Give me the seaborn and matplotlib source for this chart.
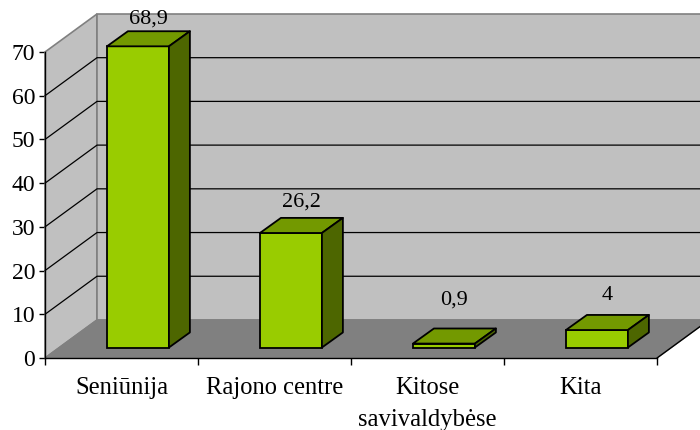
import matplotlib
matplotlib.use("Agg")
import matplotlib.pyplot as plt
import pandas as pd
import seaborn as sns

categories = ['Seniūnija', 'Rajono centre', 'Kitose\nsavivaldybėse', 'Kita']
values = [68.9, 26.2, 0.9, 4]
y_ticks = [0, 10, 20, 30, 40, 50, 60, 70]

sns.set_style("white")
plt.rcParams['font.family'] = ['Liberation Serif', 'DejaVu Serif']

df = pd.DataFrame({'place': categories, 'share': values})

fig = plt.figure(figsize=(7, 4.3), dpi=100)
ax = fig.add_axes([45 / 700, 72 / 430, 612 / 700, 306 / 430])

# depth of the fake 3d box, in data units (x = categories, y = percent)
wall_x, wall_y = 0.34, 8.7
bar_dx, bar_dy = 0.137, 3.45
shift_x, shift_y = 0.1075, 2.4
x0, x1 = -0.5, 3.5
top = y_ticks[-1]

# side wall, back wall, floor
ax.fill([x0, x0 + wall_x, x0 + wall_x, x0], [0, wall_y, top + wall_y, top],
        color='#c0c0c0', ec='#808080', lw=1.2, clip_on=False, zorder=1)
ax.fill([x0 + wall_x, x1 + wall_x, x1 + wall_x, x0 + wall_x],
        [wall_y, wall_y, top + wall_y, top + wall_y],
        color='#c0c0c0', ec='#808080', lw=1.2, clip_on=False, zorder=1)
ax.fill([x0, x1, x1 + wall_x, x0 + wall_x], [0, 0, wall_y, wall_y],
        color='#808080', ec='#808080', lw=1, clip_on=False, zorder=1.5)
ax.plot([x1, x1 + wall_x], [0, wall_y], color='black', lw=1, clip_on=False, zorder=2)

# gridlines run along the side wall then the back wall
for t in y_ticks[1:-1]:
    ax.plot([x0, x0 + wall_x, x1 + wall_x], [t, t + wall_y, t + wall_y],
            color='black', lw=0.9, clip_on=False, zorder=2)

sns.barplot(data=df, x='place', y='share', color='#99cc00', saturation=1,
            width=0.405, edgecolor='black', linewidth=1.3, ax=ax, zorder=3, clip_on=False)

bars = list(ax.containers[0])
for p in bars:
    p.set_x(p.get_x() + shift_x)
    p.set_y(shift_y)

label_pad = [2, 4.5, 13.5, 7]
for i, p in enumerate(bars):
    l = p.get_x()
    r = l + p.get_width()
    b = shift_y
    h = b + p.get_height()
    ax.fill([l, r, r + bar_dx, l + bar_dx], [h, h, h + bar_dy, h + bar_dy],
            fc='#739900', ec='black', lw=1.3, joinstyle='round', clip_on=False, zorder=3)
    ax.fill([r, r + bar_dx, r + bar_dx, r], [b, b + bar_dy, h + bar_dy, h],
            fc='#4d6600', ec='black', lw=1.3, joinstyle='round', clip_on=False, zorder=3)
    ax.annotate(f'{values[i]:g}'.replace('.', ','), xy=((l + r + bar_dx) / 2, h + bar_dy),
                xytext=(0, label_pad[i]), textcoords='offset points', ha='center', va='bottom',
                fontsize=16, color='black', zorder=5, annotation_clip=False)

ax.set_xlim(x0, x1)
ax.set_ylim(0, top)
ax.set_yticks(y_ticks)
ax.set_xticks(range(len(categories)))
ax.set_xticklabels(categories, linespacing=1.55)
ax.set_xticks([x0, 0.5, 1.5, 2.5, x1], minor=True)
ax.set_xlabel('')
ax.set_ylabel('')
ax.tick_params(axis='x', which='major', length=0, pad=14, labelsize=17.7, colors='black')
ax.tick_params(axis='x', which='minor', bottom=True, length=5, width=1, color='black')
ax.tick_params(axis='y', left=True, length=4, width=1, pad=3, labelsize=17, colors='black')
for s in ['top', 'right']:
    ax.spines[s].set_visible(False)
for s in ['left', 'bottom']:
    ax.spines[s].set_color('black')
    ax.spines[s].set_linewidth(1)
    ax.spines[s].set_zorder(6)
ax.patch.set_alpha(0)

fig.savefig('out.png', dpi=100, facecolor='white')
